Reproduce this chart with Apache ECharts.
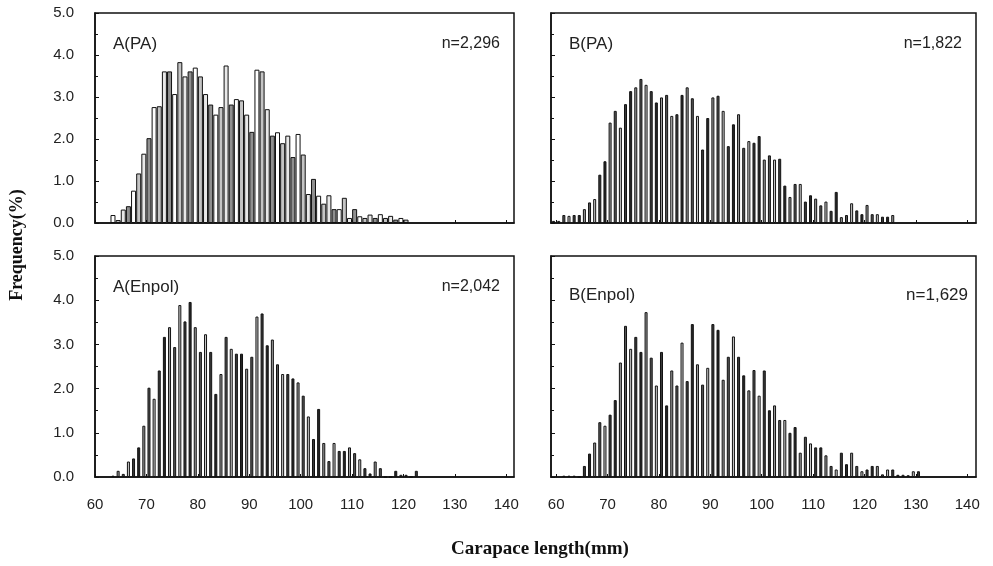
<!DOCTYPE html>
<html>
  <head>
    <meta charset="utf-8" />
    <title>Carapace length frequency</title>
    <script src="https://cdn.jsdelivr.net/npm/echarts@6/dist/echarts.min.js"></script>
    <style>
      html,
      body {
        margin: 0;
        padding: 0;
        background: #fff;
      }
      #chart {
        width: 993px;
        height: 566px;
      }
    </style>
  </head>
  <body>
    <div id="chart"></div>
    <script type="text/javascript">
      "use strict";

      // 1 mm length classes, first class start (mm) + frequency (%) per class
      var aPaStart = 63;
      var aPaFreq = [
        0.19, 0.07, 0.32, 0.4, 0.77, 1.18, 1.65, 2.02, 2.76, 2.78, 3.61, 3.61, 3.07, 3.83, 3.49, 3.61, 3.7, 3.49, 3.07, 2.82,
        2.58, 2.76, 3.75, 2.82, 2.95, 2.92, 2.58, 2.17, 3.65, 3.61, 2.71, 2.08, 2.16, 1.9, 2.08, 1.57, 2.12, 1.63, 0.69, 1.05,
        0.65, 0.46, 0.66, 0.33, 0.33, 0.6, 0.12, 0.33, 0.16, 0.12, 0.2, 0.12, 0.21, 0.12, 0.17, 0.08, 0.12, 0.08,
      ];

      var bPaStart = 59;
      var bPaFreq = [
        0.05, 0.05, 0.19, 0.17, 0.19, 0.19, 0.33, 0.49, 0.57, 1.15, 1.47, 2.39, 2.67, 2.27, 2.83, 3.14, 3.23, 3.43, 3.29, 3.14,
        2.87, 2.99, 3.05, 2.55, 2.59, 3.05, 3.23, 2.97, 2.55, 1.75, 2.5, 2.99, 3.03, 2.67, 1.83, 2.35, 2.59, 1.79, 1.95, 1.91,
        2.07, 1.51, 1.61, 1.51, 1.53, 0.89, 0.62, 0.93, 0.93, 0.51, 0.66, 0.58, 0.42, 0.51, 0.29, 0.74, 0.14, 0.19, 0.47, 0.3,
        0.21, 0.43, 0.21, 0.21, 0.15, 0.15, 0.19,
      ];

      var aEnStart = 63;
      var aEnFreq = [
        0.03, 0.14, 0.07, 0.35, 0.42, 0.67, 1.16, 2.02, 1.77, 2.41, 3.17, 3.39, 2.94, 3.89, 3.52, 3.96, 3.39, 2.83, 3.23, 2.83,
        1.88, 2.33, 3.17, 2.9, 2.79, 2.79, 2.45, 2.72, 3.63, 3.7, 2.98, 3.11, 2.55, 2.33, 2.33, 2.23, 2.14, 1.84, 1.37, 0.86,
        1.54, 0.77, 0.36, 0.77, 0.59, 0.59, 0.67, 0.54, 0.4, 0.2, 0.08, 0.35, 0.2, 0, 0, 0.14, 0.05, 0.05, 0, 0.14,
      ];

      var bEnStart = 61;
      var bEnFreq = [
        0.03, 0.03, 0.03, 0, 0.25, 0.53, 0.78, 1.24, 1.16, 1.41, 1.74, 2.59, 3.42, 2.9, 3.17, 2.83, 3.73, 2.7, 2.07, 2.83,
        1.62, 2.41, 2.07, 3.04, 2.17, 3.46, 2.55, 2.09, 2.47, 3.46, 3.33, 2.2, 2.72, 3.18, 2.72, 2.3, 1.96, 2.42, 1.84, 2.41,
        1.51, 1.62, 1.29, 1.29, 1.0, 1.13, 0.55, 0.91, 0.76, 0.67, 0.67, 0.49, 0.25, 0.17, 0.55, 0.29, 0.55, 0.25, 0.13, 0.17,
        0.25, 0.25, 0.06, 0.17, 0.17, 0.05, 0.05, 0.04, 0.13, 0.13,
      ];

      var panelNames = ["A(PA)", "B(PA)", "A(Enpol)", "B(Enpol)"];
      var panelCounts = ["n=2,296", "n=1,822", "n=2,042", "n=1,629"];
      var xTickValues = [60, 70, 80, 90, 100, 110, 120, 130, 140];
      var yTickValues = [0, 1, 2, 3, 4, 5];

      var panels = [
        { start: aPaStart, freq: aPaFreq },
        { start: bPaStart, freq: bPaFreq },
        { start: aEnStart, freq: aEnFreq },
        { start: bEnStart, freq: bEnFreq },
      ];

      // panel frames (px) and x range shown inside each frame
      var frames = [
        { left: 95, top: 13, width: 419, height: 210, xMin: 60, xMax: 141.5 },
        { left: 551, top: 13, width: 425, height: 210, xMin: 59, xMax: 141.7 },
        { left: 95, top: 256, width: 419, height: 221, xMin: 60, xMax: 141.5 },
        { left: 551, top: 256, width: 425, height: 221, xMin: 59, xMax: 141.7 },
      ];

      var lightFill = ["#ffffff", "#c4c4c4", "#e8e8e8", "#8f8f8f"];
      var darkFill = ["#262626", "#9c9c9c", "#565656", "#cdcdcd", "#3a3a3a"];

      var chart = echarts.init(document.getElementById("chart"), null, { renderer: "canvas" });

      var grids = [];
      var xAxes = [];
      var yAxes = [];
      var series = [];
      var texts = [];

      panels.forEach(function (p, i) {
        var f = frames[i];
        grids.push({
          left: f.left,
          top: f.top,
          width: f.width,
          height: f.height,
          show: true,
          borderColor: "#111",
          borderWidth: 1.5,
          backgroundColor: "#fff",
        });
        xAxes.push({
          type: "value",
          gridIndex: i,
          min: f.xMin,
          max: f.xMax,
          splitNumber: 8,
          axisLine: { show: true, lineStyle: { color: "#111", width: 1.5 } },
          axisTick: { show: true, inside: true, length: 3, customValues: xTickValues, lineStyle: { color: "#111" } },
          splitLine: { show: false },
          axisLabel: {
            show: i >= 2,
            customValues: xTickValues,
            margin: 20,
            fontSize: 15,
            color: "#222",
            fontFamily: "Liberation Sans",
            formatter: function (v) {
              return v % 10 === 0 && v <= 140 ? String(v) : "";
            },
          },
        });
        yAxes.push({
          type: "value",
          gridIndex: i,
          min: yTickValues[0],
          max: yTickValues[yTickValues.length - 1],
          interval: 1,
          axisLine: { show: true, lineStyle: { color: "#111", width: 1.5 } },
          axisTick: { show: true, inside: true, length: 4, lineStyle: { color: "#111" } },
          minorTick: { show: true, splitNumber: 2, length: 3, lineStyle: { color: "#111" } },
          splitLine: { show: false },
          axisLabel: {
            show: i % 2 === 0,
            margin: 21,
            fontSize: 15,
            color: "#222",
            fontFamily: "Liberation Sans",
            formatter: function (v) {
              return v.toFixed(1);
            },
          },
        });
        var fills = i === 0 ? lightFill : darkFill;
        series.push({
          type: "bar",
          xAxisIndex: i,
          yAxisIndex: i,
          barWidth: i === 0 ? 5 : 3,
          data: p.freq.map(function (v, k) {
            return [p.start + k + 0.5, v];
          }),
          itemStyle: {
            color: function (params) {
              return fills[params.dataIndex % fills.length];
            },
            borderColor: "#111",
            borderWidth: 1,
          },
          animation: false,
        });

        texts.push({
          type: "text",
          left: f.left + 18,
          top: f.top + (i === 3 ? 31 : 23),
          style: { text: panelNames[i], fontSize: 17, fill: "#222", fontFamily: "Liberation Sans" },
        });
        texts.push({
          type: "text",
          right: 993 - (f.left + f.width) + (i === 3 ? 8 : 14),
          top: f.top + (i === 3 ? 31 : 23),
          style: { text: panelCounts[i], fontSize: i === 3 ? 17 : 16, fill: "#222", fontFamily: "Liberation Sans" },
        });
      });

      texts.push({
        type: "text",
        x: 17,
        y: 245,
        rotation: Math.PI / 2,
        style: {
          text: "Frequency(%)",
          fontSize: 18,
          fontWeight: "bold",
          fill: "#111",
          fontFamily: "Liberation Serif",
          align: "center",
          verticalAlign: "middle",
        },
      });
      texts.push({
        type: "text",
        x: 540,
        y: 549,
        style: {
          text: "Carapace length(mm)",
          fontSize: 19,
          fontWeight: "bold",
          fill: "#111",
          fontFamily: "Liberation Serif",
          align: "center",
          verticalAlign: "middle",
        },
      });

      chart.setOption({
        animation: false,
        backgroundColor: "#fff",
        grid: grids,
        xAxis: xAxes,
        yAxis: yAxes,
        series: series,
        graphic: texts,
      });
    </script>
  </body>
</html>
